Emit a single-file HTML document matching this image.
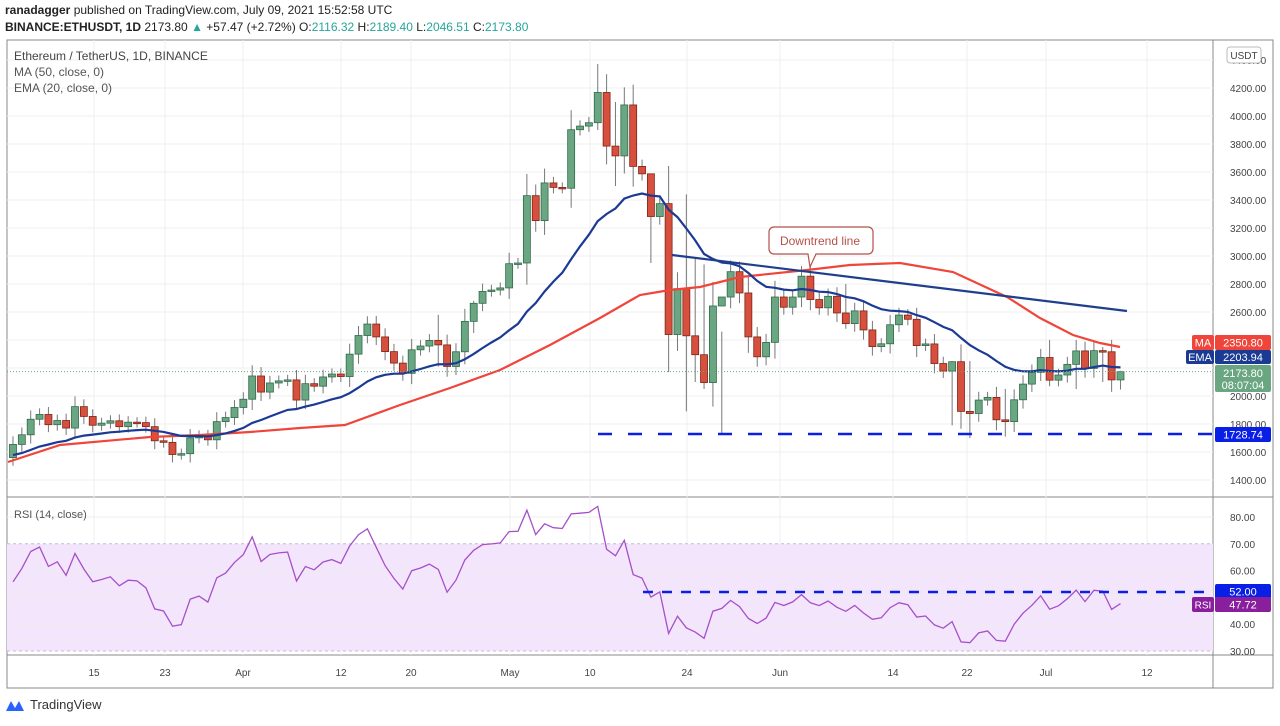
<!DOCTYPE html>
<html><head><meta charset="utf-8"><style>
body{margin:0;background:#fff;width:1280px;height:721px;overflow:hidden;font-family:"Liberation Sans",sans-serif}
svg text{font-family:"Liberation Sans",sans-serif}
</style></head><body>
<svg id="s" width="1280" height="721" xmlns="http://www.w3.org/2000/svg"></svg>
<script>
const C=[1654,1723,1834,1868,1795,1825,1771,1924,1854,1791,1806,1823,1781,1813,1810,1781,1680,1669,1582,1588,1701,1716,1687,1817,1846,1918,1977,2143,2028,2093,2108,2115,1971,2088,2070,2136,2157,2139,2299,2432,2514,2422,2317,2235,2162,2330,2357,2397,2365,2211,2316,2533,2662,2747,2757,2772,2945,2950,3431,3253,3522,3490,3484,3902,3928,3952,4168,3785,3715,4079,3640,3587,3282,3374,2439,2767,2430,2295,2096,2643,2707,2888,2736,2422,2280,2383,2707,2634,2707,2856,2689,2630,2712,2593,2517,2608,2472,2353,2373,2509,2578,2548,2360,2372,2232,2178,2245,1890,1875,1971,1990,1830,1817,1973,2085,2169,2275,2113,2150,2226,2322,2197,2324,2316,2115,2173.8];
const N=C.length, X=i=>783.8+8.86*(i-87), Y=p=>88+(4200-p)*0.14, R=r=>517+(80-r)*2.68;
let h='';
const add=s=>h+=s;
// frame
add('<rect x="7" y="40" width="1266" height="648" fill="#fff" stroke="#888"/>');
add('<line x1="1213" y1="40" x2="1213" y2="688" stroke="#888"/>');
add('<line x1="7" y1="497" x2="1273" y2="497" stroke="#888"/>');
add('<line x1="7" y1="655" x2="1273" y2="655" stroke="#888"/>');
// grid
for(let p=1400;p<=4400;p+=200){let y=Y(p);add(`<line x1="7" x2="1213" y1="${y}" y2="${y}" stroke="#efefef"/>`);add(`<text x="1230" y="${y+4}" font-size="10" fill="#444">${p.toFixed(2)}</text>`);}
const vl=[[94,'15'],[165,'23'],[243,'Apr'],[341,'12'],[411,'20'],[510,'May'],[590,'10'],[713,'24'],[784,'Jun'],[899,'14'],[970,'22'],[1050,'Jul'],[1147,'12']];
const lab=[[94,'15'],[165,'23'],[243,'Apr'],[341,'12'],[411,'20'],[510,'May'],[590,'10'],[687,'24'],[780,'Jun'],[893,'14'],[967,'22'],[1046,'Jul'],[1147,'12']];
lab.forEach(([x,t])=>{add(`<line x1="${x}" x2="${x}" y1="40" y2="655" stroke="#efefef"/>`);add(`<text x="${x}" y="676" font-size="10" fill="#444" text-anchor="middle">${t}</text>`);});
// RSI band
add(`<rect x="7" y="${R(70)}" width="1206" height="${R(30)-R(70)}" fill="#f3e6fc"/>`);
[70,30].forEach(r=>add(`<line x1="7" x2="1213" y1="${R(r)}" y2="${R(r)}" stroke="#c9b8d6" stroke-dasharray="3,3"/>`));
[80,60,50,40].forEach(r=>add(`<line x1="7" x2="1213" y1="${R(r)}" y2="${R(r)}" stroke="#ececec"/>`));
[80,70,60,50,40,30].forEach(r=>add(`<text x="1230" y="${R(r)+4}" font-size="10" fill="#444">${r.toFixed(2)}</text>`));
// candles
const wick={66:[4372,3900],68:[4100,3500],72:[3350,2950],76:[3440,1890],77:[2980,2100],78:[2940,2050],80:[2460,1728],94:[2800,2480],108:[2250,1700],112:[2050,1710],106:[2250,1790],117:[2400,2070],120:[2400,2050],123:[2350,2100],125:[2180,2046],52:[2680,2450],48:[2580,2210]};
for(let i=0;i<N;i++){const o=i?C[i-1]:1560,c=C[i];let hi=Math.max(o,c)+Math.abs(o-c)*0.25+35,lo=Math.min(o,c)-Math.abs(o-c)*0.25-35;if(wick[i]){hi=wick[i][0];lo=wick[i][1];}
const x=X(i),up=c>=o,f=up?'#6aa682':'#d6503d',st=up?'#2f6b4a':'#7f2418';
add(`<line x1="${x}" x2="${x}" y1="${Y(hi)}" y2="${Y(lo)}" stroke="#777"/>`);
let t=Y(Math.max(o,c)),b=Y(Math.min(o,c));if(b-t<1.5)b=t+1.5;
add(`<rect x="${x-3.5}" y="${t}" width="7" height="${b-t}" fill="${f}" stroke="${st}" stroke-width="0.8"/>`);}
// MA
const ma=[[8,462],[60,445],[150,437],[200,435],[250,432],[300,428],[345,425],[400,405],[450,388],[500,370],[550,345],[600,318],[640,295],[670,290],[700,287],[740,277],[807,270],[850,265],[900,263],[953,272],[1007,297],[1040,318],[1073,335],[1100,343],[1120,347]];
add(`<polyline points="${ma.map(p=>p.join(',')).join(' ')}" fill="none" stroke="#f0453a" stroke-width="2.2"/>`);
// EMA
let e=1570,ep=[];const k=2/21;for(let i=0;i<N;i++){e=C[i]*k+e*(1-k);ep.push(X(i).toFixed(1)+','+Y(e).toFixed(1));}
add(`<polyline points="${ep.join(' ')}" fill="none" stroke="#1b3a94" stroke-width="2.2"/>`);
// downtrend
add('<line x1="672" y1="255" x2="1127" y2="311" stroke="#1f3f8c" stroke-width="2.2"/>');
add(`<line x1="598" x2="1212" y1="434" y2="434" stroke="#0a1fe6" stroke-width="2.5" stroke-dasharray="14,16"/>`);
// current price
add(`<line x1="7" x2="1213" y1="${Y(2173.8)}" y2="${Y(2173.8)}" stroke="#6aa682" stroke-dasharray="1,2"/>`);
// callout
add('<path d="M774,227 h94 a5,5 0 0 1 5,5 v17 a5,5 0 0 1 -5,5 h-52 l-6,13 l-2,-13 h-34 a5,5 0 0 1 -5,-5 v-17 a5,5 0 0 1 5,-5z" fill="#fff" stroke="#b5514a" stroke-width="1.2"/>');
add('<text x="820" y="245" font-size="12" fill="#b5514a" text-anchor="middle">Downtrend line</text>');
// RSI
let ag=18,al=20,rp=[];for(let i=0;i<N;i++){const d=C[i]-(i?C[i-1]:1560);ag=(ag*13+Math.max(d,0))/14;al=(al*13+Math.max(-d,0))/14;const r=100-100/(1+ag/al);rp.push(X(i).toFixed(1)+','+R(r).toFixed(1));}
add(`<polyline points="${rp.join(' ')}" fill="none" stroke="#a64fc9" stroke-width="1.3"/>`);
add(`<line x1="643" x2="1212" y1="${R(52)}" y2="${R(52)}" stroke="#0a1fe6" stroke-width="2.5" stroke-dasharray="10,9"/>`);
// right labels
const box=(x,y,w,hh,fill,txt,fs,col)=>add(`<rect x="${x}" y="${y}" width="${w}" height="${hh}" rx="2" fill="${fill}"/><text x="${x+w/2}" y="${y+hh/2+4}" font-size="${fs}" fill="${col||'#fff'}" text-anchor="middle">${txt}</text>`);
box(1192,335,22,15,'#f0453a','MA',11);box(1215,335,56,15,'#f0453a','2350.80',11);
box(1186,350,28,14,'#1b3a94','EMA',11);box(1215,350,56,14,'#1b3a94','2203.94',11);
add('<rect x="1215" y="365" width="56" height="27" rx="2" fill="#6aa682"/><text x="1243" y="377" font-size="11" fill="#fff" text-anchor="middle">2173.80</text><text x="1243" y="389" font-size="11" fill="#fff" text-anchor="middle">08:07:04</text>');
box(1215,427,56,15,'#0a1fe6','1728.74',11);
box(1215,584,56,15,'#0a1fe6','52.00',11);
box(1192,597,22,15,'#8a1f9e','RSI',10);box(1215,597,56,15,'#8a1f9e','47.72',11);
box(1227,47,34,16,'#fff','USDT',10,'#444');add('<rect x="1227" y="47" width="34" height="16" rx="3" fill="none" stroke="#bbb"/>');
// texts
add('<text x="14" y="60" font-size="12" fill="#444">Ethereum / TetherUS, 1D, BINANCE</text><text x="14" y="76" font-size="12" fill="#555">MA (50, close, 0)</text><text x="14" y="92" font-size="12" fill="#555">EMA (20, close, 0)</text>');
add('<text x="14" y="518" font-size="11" fill="#555">RSI (14, close)</text>');
add('<text x="5" y="14" font-size="12" fill="#222"><tspan font-weight="bold">ranadagger</tspan> published on TradingView.com, July 09, 2021 15:52:58 UTC</text>');
add('<text x="5" y="31" font-size="12" fill="#222"><tspan font-weight="bold">BINANCE:ETHUSDT, 1D</tspan> 2173.80 <tspan fill="#26a69a">▲</tspan> +57.47 (+2.72%) O:<tspan fill="#26a69a">2116.32</tspan> H:<tspan fill="#26a69a">2189.40</tspan> L:<tspan fill="#26a69a">2046.51</tspan> C:<tspan fill="#26a69a">2173.80</tspan></text>');
add('<path d="M6,711 l5,-10 l4,7 l4,-7 l5,10z" fill="#2962ff"/><text x="30" y="709" font-size="13" fill="#333">TradingView</text>');
document.getElementById('s').innerHTML=h;
</script>
</body></html>
